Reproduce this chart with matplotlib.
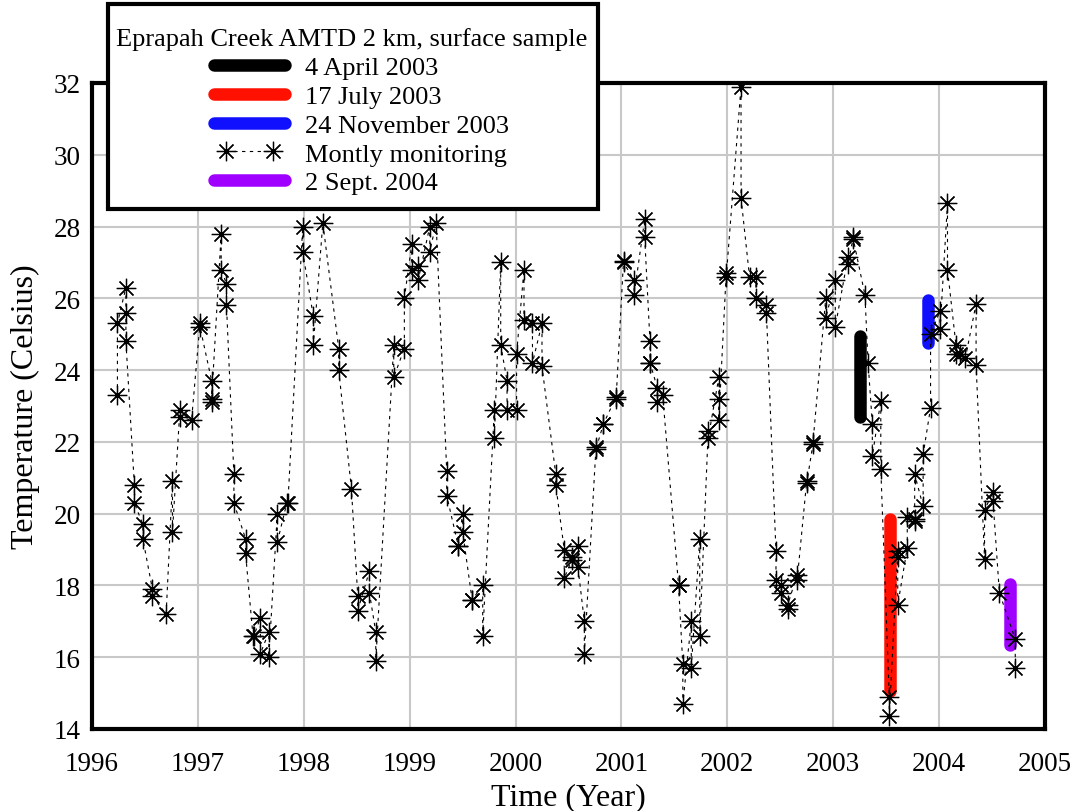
import matplotlib
matplotlib.use("Agg")
import matplotlib.pyplot as plt
from matplotlib.patches import Rectangle
from matplotlib.legend_handler import HandlerLine2D

plt.rcParams['font.family'] = ['Liberation Serif', 'DejaVu Serif']

# Monthly monitoring (decimal year, temperature in Celsius)
mon_time = [1996.24, 1996.24, 1996.32, 1996.32, 1996.32, 1996.40, 1996.40, 1996.48, 1996.48,
            1996.57, 1996.57, 1996.70, 1996.76, 1996.76, 1996.83, 1996.83, 1996.94,
            1997.02, 1997.02, 1997.13, 1997.13, 1997.13, 1997.22, 1997.22, 1997.27, 1997.27,
            1997.34, 1997.34, 1997.45, 1997.45, 1997.52, 1997.53, 1997.59, 1997.59,
            1997.67, 1997.67, 1997.75, 1997.75, 1997.84, 1997.85,
            1997.99, 1997.99, 1998.09, 1998.09, 1998.18, 1998.33, 1998.33, 1998.45,
            1998.51, 1998.51, 1998.62, 1998.62, 1998.68, 1998.68, 1998.85, 1998.85,
            1998.95, 1998.95, 1999.02, 1999.02, 1999.08, 1999.08, 1999.19, 1999.19, 1999.25,
            1999.35, 1999.35, 1999.46, 1999.46, 1999.50, 1999.50, 1999.59, 1999.59,
            1999.69, 1999.69, 1999.80, 1999.80, 1999.86, 1999.86, 1999.92, 1999.92,
            2000.01, 2000.01, 2000.08, 2000.08, 2000.16, 2000.16, 2000.25, 2000.25,
            2000.38, 2000.38, 2000.46, 2000.46, 2000.53, 2000.53, 2000.59, 2000.59,
            2000.65, 2000.65, 2000.76, 2000.76, 2000.83, 2000.83, 2000.95, 2000.95,
            2001.02, 2001.02, 2001.12, 2001.12, 2001.22, 2001.22, 2001.27, 2001.27, 2001.27,
            2001.34, 2001.34, 2001.39, 2001.54, 2001.54, 2001.58, 2001.58, 2001.66, 2001.66,
            2001.74, 2001.74, 2001.82, 2001.82, 2001.92, 2001.92, 2001.92, 2001.99, 2001.99,
            2002.13, 2002.13, 2002.21, 2002.27, 2002.27, 2002.37, 2002.37,
            2002.46, 2002.46, 2002.51, 2002.51, 2002.57, 2002.57, 2002.66, 2002.66,
            2002.75, 2002.75, 2002.81, 2002.81, 2002.93, 2002.93, 2003.02, 2003.02,
            2003.14, 2003.14, 2003.19, 2003.19, 2003.30, 2003.33, 2003.37, 2003.37,
            2003.45, 2003.45, 2003.53, 2003.53, 2003.61, 2003.61, 2003.61,
            2003.70, 2003.70, 2003.77, 2003.77, 2003.77, 2003.85, 2003.85, 2003.92, 2003.92,
            2004.01, 2004.01, 2004.08, 2004.08, 2004.16, 2004.16, 2004.20, 2004.25,
            2004.35, 2004.35, 2004.43, 2004.43, 2004.51, 2004.51, 2004.57, 2004.72, 2004.72]
mon_temp = [23.3, 25.3, 26.3, 25.6, 24.8, 20.8, 20.3, 19.7, 19.3,
            17.9, 17.7, 17.2, 20.9, 19.5, 22.9, 22.7, 22.6,
            25.3, 25.2, 23.7, 23.1, 23.2, 27.8, 26.8, 26.4, 25.8,
            21.1, 20.3, 19.3, 18.9, 16.6, 16.6, 17.1, 16.1,
            16.7, 16.0, 20.0, 19.2, 20.3, 20.3,
            28.0, 27.3, 25.5, 24.7, 28.1, 24.6, 24.0, 20.7,
            17.7, 17.3, 18.4, 17.8, 16.7, 15.9, 24.7, 23.8,
            24.6, 26.0, 27.5, 26.8, 26.9, 26.5, 28.0, 27.3, 28.1,
            21.2, 20.5, 19.1, 19.1, 20.0, 19.5, 17.6, 17.6,
            18.0, 16.6, 22.9, 22.1, 27.0, 24.7, 23.7, 22.9,
            22.9, 24.45, 26.8, 25.4, 25.3, 24.2, 25.3, 24.1,
            21.1, 20.8, 19.0, 18.2, 18.7, 18.8, 19.1, 18.5,
            17.0, 16.1, 21.85, 21.8, 22.5, 22.5, 23.25, 23.2,
            27.05, 27.0, 26.5, 26.1, 28.2, 27.7, 24.8, 24.2, 24.2,
            23.5, 23.1, 23.3, 18.0, 18.0, 15.8, 14.7, 17.0, 15.7,
            19.3, 16.6, 22.3, 22.1, 23.8, 23.2, 22.6, 26.7, 26.6,
            31.9, 28.8, 26.6, 26.6, 26.0, 25.8, 25.6,
            18.95, 18.15, 18.0, 17.8, 17.35, 17.45, 18.3, 18.15,
            20.9, 20.85, 21.95, 22.0, 26.0, 25.45, 26.5, 25.2,
            27.15, 26.95, 27.7, 27.65, 26.1, 24.2, 22.5, 21.6,
            23.15, 21.25, 14.9, 14.35, 18.95, 18.8, 17.45,
            19.05, 19.9, 19.85, 19.8, 21.1, 20.2, 21.65, 22.95, 25.0,
            25.65, 25.15, 28.65, 26.8, 24.7, 24.45, 24.45, 24.35,
            25.85, 24.15, 18.75, 20.1, 20.6, 20.35, 17.8, 16.5, 15.7]

# Field studies (profiles during single days)
apr03_time = [2003.255, 2003.255]
apr03_temp = [22.7, 24.95]
jul03_time = [2003.54, 2003.54]
jul03_temp = [15.05, 19.85]
nov03_time = [2003.895, 2003.895]
nov03_temp = [24.75, 25.95]
sep04_time = [2004.67, 2004.67]
sep04_temp = [16.35, 18.05]

year_ticks = [1996, 1997, 1998, 1999, 2000, 2001, 2002, 2003, 2004, 2005]
temp_ticks = [14, 16, 18, 20, 22, 24, 26, 28, 30, 32]

W, H = 1075, 812
fig = plt.figure(figsize=(W / 100, H / 100), dpi=100)
ax = fig.add_axes([0.0856, 0.101, 0.8864, 0.7956])

star = (8, 2, 0)
l_mon, = ax.plot(mon_time, mon_temp, color='black', lw=0.8, linestyle=(0, (3, 4)),
                 marker=star, markersize=14, markeredgewidth=0.9, markerfacecolor='none',
                 markeredgecolor='black', zorder=4)
thick = dict(lw=9, solid_capstyle='round', zorder=3)
l_apr, = ax.plot(apr03_time, apr03_temp, color='black', **thick)
l_jul, = ax.plot(jul03_time, jul03_temp, color='#ff1000', **thick)
l_nov, = ax.plot(nov03_time, nov03_temp, color='#1010ff', **thick)
l_sep, = ax.plot(sep04_time, sep04_temp, color='#a000ff', **thick)

ax.set_xlim(1996, 2005)
ax.set_ylim(14, 32)
ax.set_xticks(year_ticks)
ax.set_yticks(temp_ticks)
ax.grid(True, color='#c8c8c8', lw=1.5)
ax.set_axisbelow(True)
ax.tick_params(length=0, labelsize=19.5)
ax.tick_params(axis='x', pad=16)
ax.tick_params(axis='y', pad=8)
for s in ax.spines.values():
    s.set_linewidth(3)
ax.set_xlabel('Time (Year)', fontsize=23, labelpad=4)
ax.set_ylabel('Temperature (Celsius)', fontsize=23, labelpad=10)

# legend frame and title (drawn separately so the padding matches the original)
frame = Rectangle((108 / W, 1 - 210 / H), 490 / W, 205 / H, transform=fig.transFigure,
                  facecolor='white', edgecolor='black', lw=3, zorder=8)
fig.patches.append(frame)
fig.text(352 / W, 1 - 40 / H, 'Eprapah Creek AMTD 2 km, surface sample',
         ha='center', va='center', fontsize=19, zorder=9)

leg = fig.legend([l_apr, l_jul, l_nov, l_mon, l_sep],
                 ['4 April 2003', '17 July 2003', '24 November 2003',
                  'Montly monitoring', '2 Sept. 2004'],
                 loc='upper left', bbox_to_anchor=(214 / W, 1 - 57 / H),
                 borderaxespad=0, borderpad=0, frameon=False,
                 fontsize=19, handlelength=2.7, handletextpad=0.74,
                 labelspacing=0.2, numpoints=1,
                 handler_map={l_mon: HandlerLine2D(marker_pad=0.45, numpoints=2)})
leg.set_zorder(10)

fig.savefig('out.png', dpi=100)
